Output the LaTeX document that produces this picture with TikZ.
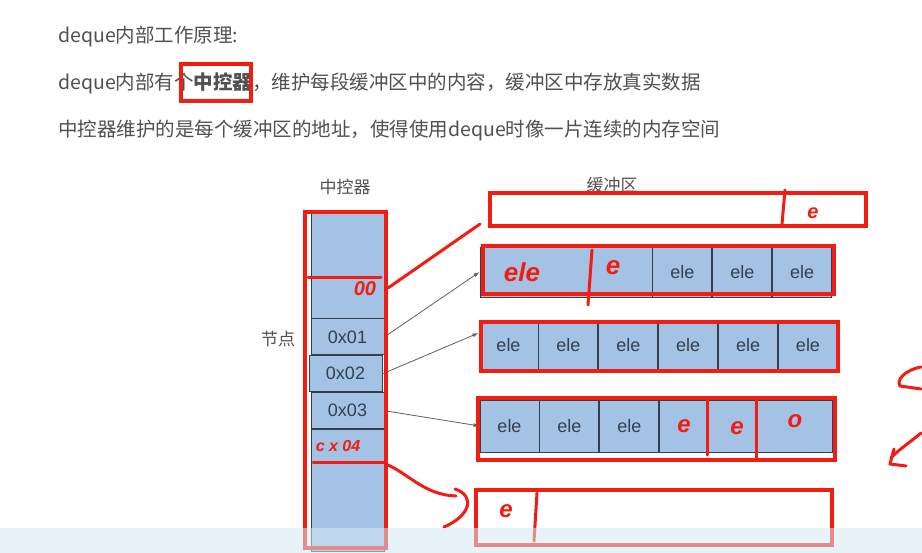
\documentclass[tikz,border=0pt]{standalone}
\usepackage{fontspec}
\setmainfont{Liberation Sans}
\newfontfamily\cjk{Noto Sans CJK SC}
\usetikzlibrary{positioning,arrows.meta,calc}
\definecolor{cellblue}{RGB}{164,194,228}
\definecolor{celledge}{RGB}{50,64,82}
\definecolor{txtgray}{RGB}{80,80,80}
\definecolor{pen}{RGB}{242,28,18}
\definecolor{wire}{RGB}{95,95,95}
\definecolor{band}{RGB}{214,234,243}

\begin{document}
\begin{tikzpicture}[x=1pt,y=-1pt,
  every node/.style={inner sep=0pt},
  cell/.style={draw=celledge, fill=cellblue, line width=0.9pt, minimum width=59pt,
    minimum height=50pt, text=celledge, font=\fontsize{18}{18}\selectfont},
  slot/.style={cell, minimum width=73pt, minimum height=36pt},
  link/.style={draw=wire, line width=0.8pt, -{Latex[length=6pt,width=4pt]}},
  penbox/.style={draw=pen, line width=3.2pt},
  pen/.style={draw=pen, line width=3pt, line cap=round, line join=round},
  scrawl/.style={text=pen, font=\fontsize{20}{20}\selectfont\bfseries\itshape},
  para/.style={anchor=west, text=txtgray, font=\cjk\fontsize{19.5}{20}\selectfont},
  caption/.style={text=txtgray, font=\cjk\fontsize{17}{17}\selectfont}
]
\useasboundingbox (0,0) rectangle (922,553);
\fill[white] (0,0) rectangle (922,553);

% text above the figure
\node[para] (l1) at (58,37) {deque内部工作原理:};
\node[para] (l2) at (58,83) {deque内部有个{\bfseries 中控器}，维护每段缓冲区中的内容，缓冲区中存放真实数据};
\node[para] (l3) at (58,130) {中控器维护的是每个缓冲区的地址，使得使用deque时像一片连续的内存空间};

% captions
\node[caption] (capctrl) at (345,187) {中控器};
\node[caption] (capbuf) at (612,185) {缓冲区};
\node[caption] (capnode) at (278,339) {节点};

% controller column
\node[slot, minimum height=106pt] (head) at (347.5,265) {};
\node[slot, below=0pt of head] (n1) {0x01};
\node[slot, below=0pt of n1, xshift=-2pt] (n2) {0x02};
\node[slot, below=0pt of n2, xshift=2pt] (n3) {0x03};
\node[slot, below=0pt of n3, minimum height=122pt] (tail) {};

% buffers
\node[cell, minimum width=172pt] (b1w) at (566,272) {};
\node[cell, right=0pt of b1w] (b11) {ele};
\foreach \i [count=\j from 2] in {1,2}
  \node[cell, right=0pt of b1\i] (b1\j) {ele};

\node[cell] (b21) at (508.5,345) {ele};
\foreach \i [count=\j from 2] in {1,...,5}
  \node[cell, right=0pt of b2\i] (b2\j) {ele};

\node[cell, minimum height=52pt] (b31) at (509.5,426) {ele};
\foreach \i [count=\j from 2] in {1,2}
  \node[cell, minimum height=52pt, right=0pt of b3\i] (b3\j) {ele};
\node[cell, minimum height=52pt, minimum width=173pt, right=0pt of b33] (b3w) {};

% links from nodes to buffers
\draw[link] (n1.east) -- (b1w.west);
\draw[link] (n2.east) -- ([yshift=12pt]b21.west);
\draw[link] (n3.east) -- (b31.west);

% red marks
\draw[penbox] (181,64) rectangle (251,101);
\draw[penbox] (305,212) rectangle (386,548);
\draw[pen] (308,278) -- (381,278);
\draw[pen] (313,463) -- (384,463);
\draw[pen] (388,288) -- (480,224);
\node[scrawl] (m00) at (365,289) {00};
\node[scrawl, font=\fontsize{16}{16}\selectfont\bfseries\itshape] (m04) at (338,446) {c x 04};

\draw[penbox] (490,193) rectangle (866,226);
\draw[pen] (785,190) -- (782,224);
\node[scrawl] (m6) at (813,213) {e};

\draw[penbox] (483,246) rectangle (834,294);
\node[scrawl, font=\fontsize{26}{26}\selectfont\bfseries\itshape] (mele) at (522,272) {ele};
\draw[pen] (592,250) -- (588,305);
\node[scrawl, font=\fontsize{26}{26}\selectfont\bfseries\itshape] (me1) at (613,268) {e};

\draw[penbox] (481,322) rectangle (838,371);

\draw[penbox] (478,398) rectangle (835,460);
\draw[pen] (707,399) -- (707,455);
\draw[pen] (756,399) -- (756,460);
\node[scrawl, font=\fontsize{24}{24}\selectfont\bfseries\itshape] (me2) at (684,426) {e};
\node[scrawl, font=\fontsize{24}{24}\selectfont\bfseries\itshape] (me3) at (737,428) {e};
\node[scrawl, font=\fontsize{24}{24}\selectfont\bfseries\itshape] (me4) at (795,421) {o};

\draw[penbox] (476,490) rectangle (832,545);
\draw[pen] (537,493) -- (534,541);
\node[scrawl, font=\fontsize{24}{24}\selectfont\bfseries\itshape] (me5) at (506,511) {e};
\draw[pen] (388,465) .. controls (410,475) and (425,495) .. (456,496);
\draw[pen] (455,489) .. controls (476,496) and (470,516) .. (444,527);

\draw[pen] (921,367) .. controls (905,370) and (896,380) .. (900,386) -- (921,389);
\draw[pen] (921,433) .. controls (908,444) and (898,450) .. (891,458);
\draw[pen] (894,449) -- (890,464) -- (906,466);

% player band at the bottom
\fill[band, opacity=0.55] (0,528) rectangle (922,553);
\end{tikzpicture}
\end{document}
